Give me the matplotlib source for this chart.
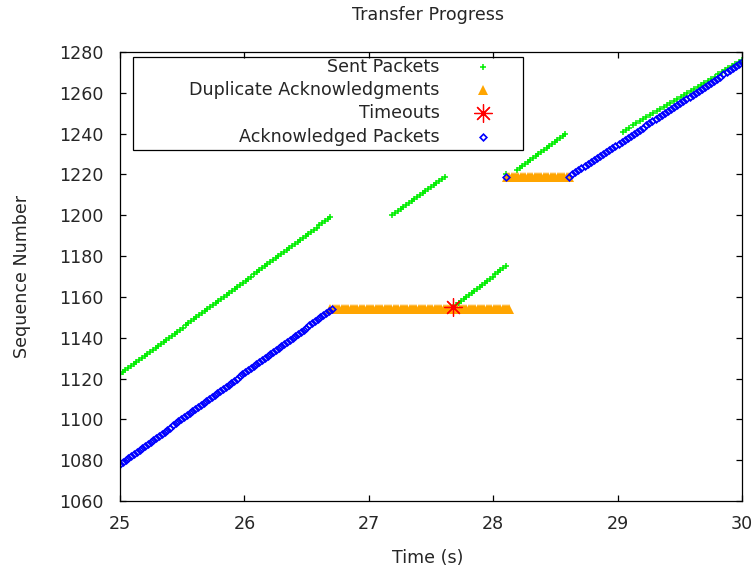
import numpy as np
import matplotlib
matplotlib.use("Agg")
import matplotlib.pyplot as plt
from matplotlib.patches import Rectangle

# Packet runs: (t_start, t_end, seq_start, seq_end)
# Sequence numbers inside one run are consecutive.
sent_runs = [
    (25.00, 26.69, 1122, 1199),
    (27.19, 27.61, 1200, 1219),
    (27.68, 28.10, 1155, 1175),
    (28.10, 28.10, 1220, 1220),
    (28.19, 28.58, 1222, 1240),
    (29.04, 30.00, 1241, 1276),
]
ack_runs = [
    (25.00, 26.70, 1078, 1154),
    (28.10, 28.10, 1219, 1219),
    (28.61, 30.00, 1219, 1275),
]
# duplicate acks: (t_start, t_end, seq, count)
dup_ack_runs = [
    (26.69, 28.13, 1154, 80),
    (28.11, 28.61, 1219, 28),
]
timeout_t = [27.68]
timeout_seq = [1155]

legend_labels = ["Sent Packets", "Duplicate Acknowledgments", "Timeouts", "Acknowledged Packets"]

GREEN = "#00ee00"
ORANGE = "#ffa500"
RED = "#ff0000"
BLUE = "#0000ff"
TEXT = "#262626"

plt.rcParams["font.family"] = ["DejaVu Sans"]
plt.rcParams["font.size"] = 12.6


def expand_runs(runs):
    ts, seqs = [], []
    for t0, t1, s0, s1 in runs:
        seq = np.arange(s0, s1 + 1)
        ts.append(np.linspace(t0, t1, len(seq)))
        seqs.append(seq)
    return np.concatenate(ts), np.concatenate(seqs)


def expand_dups(runs):
    ts, seqs = [], []
    for t0, t1, s, n in runs:
        ts.append(np.linspace(t0, t1, n))
        seqs.append(np.full(n, s))
    return np.concatenate(ts), np.concatenate(seqs)


sent_t, sent_seq = expand_runs(sent_runs)
ack_t, ack_seq = expand_runs(ack_runs)
dup_t, dup_seq = expand_dups(dup_ack_runs)

styles = [
    dict(marker="+", ms=5, mew=1.1, color=GREEN, ls="none"),
    dict(marker="^", ms=6.5, mew=0, color=ORANGE, ls="none"),
    dict(marker=(8, 2, 0), ms=13, mew=0.9, color=RED, ls="none"),
    dict(marker="D", ms=3.4, mew=1.2, color=BLUE, mfc="none", ls="none"),
]

fig = plt.figure(figsize=(7.54, 5.73), dpi=100)
ax = fig.add_axes([0.1592, 0.1257, 0.8249, 0.7835])

ax.plot(sent_t, sent_seq, **styles[0])
ax.plot(dup_t, dup_seq, **styles[1])
ax.plot(timeout_t, timeout_seq, **styles[2])
ax.plot(ack_t, ack_seq, **styles[3])

ax.set_xlim(25, 30)
ax.set_ylim(1060, 1280)
ax.set_xticks(np.arange(25, 31, 1))
ax.set_yticks(np.arange(1060, 1281, 20))
ax.tick_params(direction="in", length=4.5, width=0.9, top=True, right=True,
               colors="black", labelcolor=TEXT)
ax.tick_params(axis="y", pad=12)
ax.tick_params(axis="x", pad=10)
for sp in ax.spines.values():
    sp.set_linewidth(0.9)
    sp.set_color("black")

# gnuplot-style key: right-aligned text, marker on the right
ax.add_patch(Rectangle((0.0209, 0.782), 0.627, 0.207, transform=ax.transAxes,
                       fill=False, lw=0.9, ec="black", zorder=5))
key_y = [0.9666, 0.9154, 0.8641, 0.8107]
for label, y, st in zip(legend_labels, key_y, styles):
    ax.text(0.514, y, label, transform=ax.transAxes, ha="right", va="center",
            color=TEXT)
    ax.plot([0.584], [y], transform=ax.transAxes, clip_on=False, **st)

ax.set_xlabel("Time (s)", color=TEXT)
ax.set_ylabel("Sequence Number", color=TEXT)
ax.xaxis.label.set_va("center")
ax.xaxis.set_label_coords(0.495, -0.127)
ax.yaxis.label.set_va("center")
ax.yaxis.set_label_coords(-0.158, 0.5)

fig.text(428 / 754, 1 - 15 / 573, "Transfer Progress", ha="center", va="center",
         color=TEXT)

fig.savefig("out.png", dpi=100)
